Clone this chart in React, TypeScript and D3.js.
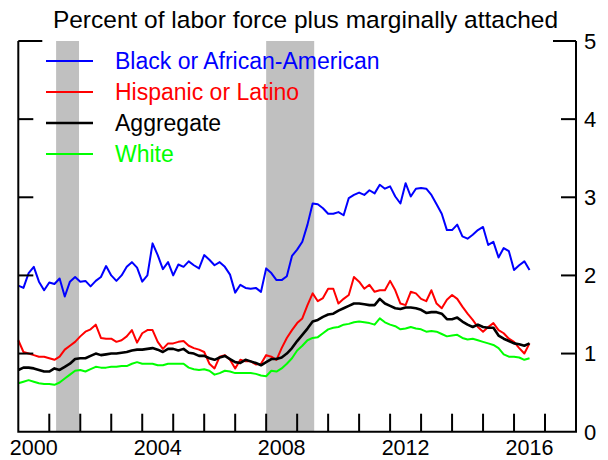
import * as d3 from "d3";
import { useEffect, useRef } from "react";

// bi-monthly readings, Jan 2000 .. Jul 2016
const black = [
  1.87, 1.84, 2.03, 2.11, 1.92, 1.81, 1.91, 1.89, 1.96, 1.73, 1.92, 1.98,
  1.92, 1.93, 1.86, 1.93, 1.98, 2.12, 2.0, 1.93, 2.0, 2.11, 2.17, 2.1,
  1.92, 2.0, 2.41, 2.26, 2.08, 2.17, 2.0, 2.14, 2.11, 2.18, 2.13, 2.09,
  2.26, 2.2, 2.13, 2.17, 2.11, 2.01, 1.78, 1.88, 1.84, 1.83, 1.84, 1.79,
  2.09, 2.03, 1.94, 1.94, 1.99, 2.25, 2.33, 2.43, 2.65, 2.92, 2.91, 2.86,
  2.79, 2.79, 2.81, 2.77, 2.99, 3.03, 3.06, 3.03, 3.09, 3.05, 3.16, 3.11,
  3.14, 3.01, 2.92, 3.18, 3.01, 3.11, 3.12, 3.11, 3.03, 2.91, 2.79, 2.58,
  2.58, 2.65, 2.5, 2.47, 2.52, 2.58, 2.62, 2.39, 2.43, 2.23, 2.35, 2.31,
  2.07, 2.13, 2.18, 2.07,
];

const hispanic = [
  1.17, 1.02, 1.0, 0.98, 0.96, 0.96, 0.94, 0.92, 0.96, 1.05, 1.1, 1.15,
  1.22, 1.28, 1.31, 1.37, 1.2, 1.19, 1.19, 1.15, 1.17, 1.22, 1.3, 1.14,
  1.26, 1.3, 1.3, 1.15, 1.06, 1.13, 1.13, 1.15, 1.16, 1.1, 1.07, 1.05,
  1.02, 0.87, 0.81, 0.96, 0.98, 0.92, 0.81, 0.92, 0.9, 0.9, 0.86, 0.87,
  0.98, 0.96, 0.92, 1.07, 1.2, 1.3, 1.39, 1.45, 1.62, 1.77, 1.67, 1.71,
  1.83, 1.83, 1.64, 1.7, 1.75, 1.98, 1.92, 1.83, 1.88, 1.79, 1.81, 1.81,
  1.93, 1.81, 1.64, 1.62, 1.79, 1.77, 1.7, 1.67, 1.81, 1.64, 1.58, 1.69,
  1.75, 1.7, 1.6, 1.51, 1.43, 1.34, 1.28, 1.34, 1.39, 1.3, 1.26, 1.19,
  1.15, 1.07, 1.0, 1.13,
];

const aggregate = [
  0.79, 0.82, 0.82, 0.81, 0.79, 0.77, 0.77, 0.81, 0.79, 0.83, 0.87, 0.93,
  0.94, 0.94, 0.97, 1.0, 0.98, 0.99, 1.0, 1.0, 1.01, 1.02, 1.04, 1.05,
  1.05, 1.06, 1.07, 1.05, 1.02, 1.06, 1.06, 1.04, 1.06, 1.01, 1.0, 0.97,
  0.97, 0.94, 0.92, 0.95, 0.97, 0.93, 0.89, 0.88, 0.92, 0.9, 0.88, 0.85,
  0.89, 0.93, 0.93, 0.95, 1.0, 1.07, 1.16, 1.24, 1.32, 1.41, 1.43, 1.47,
  1.5, 1.51, 1.55, 1.58, 1.61, 1.64, 1.64, 1.63, 1.62, 1.62, 1.7, 1.64,
  1.61, 1.58, 1.57, 1.59, 1.59, 1.58, 1.56, 1.52, 1.53, 1.53, 1.51, 1.44,
  1.44, 1.46, 1.41, 1.37, 1.34, 1.37, 1.34, 1.33, 1.33, 1.23, 1.19, 1.16,
  1.13, 1.12, 1.1, 1.13,
];

const white = [
  0.62, 0.64, 0.66, 0.64, 0.62, 0.61, 0.61, 0.6, 0.63, 0.68, 0.73, 0.78,
  0.79, 0.77, 0.8, 0.83, 0.82, 0.82, 0.83, 0.83, 0.84, 0.84, 0.87, 0.89,
  0.87, 0.87, 0.87, 0.85, 0.85, 0.87, 0.87, 0.87, 0.87, 0.82, 0.8, 0.79,
  0.8, 0.78, 0.73, 0.75, 0.78, 0.77, 0.75, 0.75, 0.75, 0.75, 0.74, 0.72,
  0.71, 0.78, 0.77, 0.81, 0.87, 0.94, 1.04, 1.1, 1.17, 1.2, 1.21, 1.26,
  1.31, 1.33, 1.34, 1.37, 1.38, 1.4, 1.41, 1.4, 1.39, 1.37, 1.45, 1.4,
  1.37, 1.35, 1.31, 1.32, 1.34, 1.32, 1.31, 1.28, 1.29, 1.28, 1.25, 1.22,
  1.23, 1.24, 1.2, 1.18, 1.19, 1.17, 1.15, 1.13, 1.11, 1.07, 0.99, 0.96,
  0.96, 0.95, 0.92, 0.94,
];

const recessions = [
  [2001.22, 2001.96],
  [2008.0, 2009.55],
];

const yearLabels = [2000, 2004, 2008, 2012, 2016];
const yTicks = [0, 1, 2, 3, 4, 5];

const series = [
  { name: "Black or African-American", color: "#0000ff", width: 2, values: black },
  { name: "Hispanic or Latino", color: "#ff0000", width: 2, values: hispanic },
  { name: "Aggregate", color: "#000000", width: 2.6, values: aggregate },
  { name: "White", color: "#00ff00", width: 2, values: white },
];

const App = () => {
  const svgRef = useRef<SVGSVGElement | null>(null);
  const width = 608;
  const height = 460;

  useEffect(() => {
    const left = 18.3;
    const right = 576;
    const top = 41;
    const bottom = 431.7;
    const font = "Liberation Sans, Arial, sans-serif";

    const x = d3.scaleLinear().domain([2000, 2018]).range([left, right]);
    const y = d3.scaleLinear().domain([0, 5]).range([bottom, top]);

    const svg = d3.select(svgRef.current);
    svg.selectAll("*").remove();

    // recession shading
    svg
      .append("g")
      .selectAll("rect")
      .data(recessions)
      .join("rect")
      .attr("x", (d) => x(d[0]))
      .attr("width", (d) => x(d[1]) - x(d[0]))
      .attr("y", y(5))
      .attr("height", y(0) - y(5))
      .attr("fill", "#c0c0c0");

    // lines, drawn back to front
    const line = d3
      .line<number>()
      .x((_, i) => x(2000 + i / 6))
      .y((d) => y(d));

    const drawOrder = [3, 1, 2, 0];
    drawOrder.forEach((k) => {
      const s = series[k];
      svg
        .append("path")
        .datum(s.values)
        .attr("fill", "none")
        .attr("stroke", s.color)
        .attr("stroke-width", s.width)
        .attr("stroke-linejoin", "round")
        .attr("d", line);
    });

    // axes frame
    const axis = svg
      .append("g")
      .attr("stroke", "#000")
      .attr("stroke-width", 2)
      .attr("fill", "none");
    axis
      .append("path")
      .attr("d", `M${left},${top}V${bottom}H${right}V${top}`);
    axis.append("line").attr("x1", left).attr("x2", left + 24).attr("y1", top).attr("y2", top);
    axis.append("line").attr("x1", right - 23).attr("x2", right).attr("y1", top).attr("y2", top);

    yTicks
      .filter((v) => v > 0 && v < 5)
      .forEach((v) => {
        axis.append("line").attr("x1", left).attr("x2", left + 15).attr("y1", y(v)).attr("y2", y(v));
        axis.append("line").attr("x1", right - 15).attr("x2", right).attr("y1", y(v)).attr("y2", y(v));
      });

    d3.range(2001, 2018).forEach((yr) => {
      axis
        .append("line")
        .attr("x1", x(yr))
        .attr("x2", x(yr))
        .attr("y1", bottom)
        .attr("y2", bottom - 18);
    });

    // tick labels
    svg
      .append("g")
      .selectAll("text")
      .data(yTicks)
      .join("text")
      .attr("x", right + 8)
      .attr("y", (d) => y(d))
      .attr("dy", "0.36em")
      .attr("font-family", font)
      .attr("font-size", 22)
      .text((d) => d);

    svg
      .append("g")
      .selectAll("text")
      .data(yearLabels)
      .join("text")
      .attr("x", (d) => x(d + 0.5))
      .attr("y", 455)
      .attr("text-anchor", "middle")
      .attr("font-family", font)
      .attr("font-size", 21.5)
      .text((d) => d);

    svg
      .append("text")
      .attr("x", 305.5)
      .attr("y", 28)
      .attr("text-anchor", "middle")
      .attr("font-family", font)
      .attr("font-size", 24.5)
      .text("Percent of labor force plus marginally attached");

    // legend
    const legend = svg.append("g");
    series.forEach((s, i) => {
      const ly = 61 + i * 31;
      legend
        .append("line")
        .attr("x1", 46)
        .attr("x2", 93)
        .attr("y1", ly)
        .attr("y2", ly)
        .attr("stroke", s.color)
        .attr("stroke-width", s.width);
      legend
        .append("text")
        .attr("x", 115)
        .attr("y", ly)
        .attr("dy", "0.35em")
        .attr("fill", s.color)
        .attr("font-family", font)
        .attr("font-size", 23)
        .text(s.name);
    });
  }, []);

  return (
    <svg
      ref={svgRef}
      width={width}
      height={height}
      style={{ position: "absolute", left: 0, top: 0, background: "#fff" }}
    ></svg>
  );
};

export default App;
